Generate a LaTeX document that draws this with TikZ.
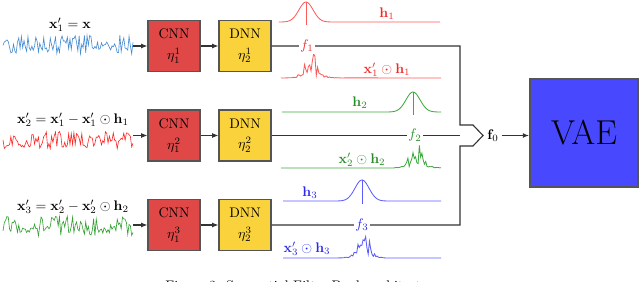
\documentclass[tikz,border=0pt]{standalone}
\usepackage{amsmath,amssymb}
\usetikzlibrary{arrows.meta}
\definecolor{cnnred}{RGB}{224,72,72}
\definecolor{dnnyel}{RGB}{250,210,60}
\definecolor{vaeblue}{RGB}{72,72,255}
\definecolor{sigblue}{RGB}{70,140,210}
\definecolor{sigred}{RGB}{255,40,40}
\definecolor{siggreen}{RGB}{50,160,50}
\definecolor{cred}{RGB}{255,90,90}
\definecolor{cgreen}{RGB}{60,170,60}
\definecolor{cblue}{RGB}{90,90,255}
\definecolor{lred}{RGB}{240,40,40}
\definecolor{lgreen}{RGB}{40,140,40}
\definecolor{lblue}{RGB}{40,40,240}
\definecolor{edge}{RGB}{85,85,85}
\begin{document}
\begin{tikzpicture}[x=0.72pt,y=-0.72pt,
  box/.style={draw=edge,line width=0.8pt,minimum width=37.4pt,minimum height=36.7pt,inner sep=0pt,align=center},
  conn/.style={draw=black!80,line width=0.8pt},
  arr/.style={conn,-{Latex[length=4.5pt,width=3.5pt]}},
  sig/.style={line width=0.45pt},
  fl/.style={line width=0.6pt},
  flab/.style={inner sep=1pt},
  fnode/.style={inner sep=1pt,fill=white},
]
\useasboundingbox (0,0) rectangle (640,282);
\clip (0,0) rectangle (640,282);
\pgfmathsetseed{11}

% ---- input signals
\draw[sig,sigblue] plot[domain=3:133,samples=100]
  (\x,{45+10*(1-0.8*exp(-(((\x-104)/7)^2)))*rand});
\draw[sig,sigred] plot[domain=3:133,samples=100]
  (\x,{140+9*(1-0.85*exp(-(((\x-22)/8)^2)))*rand+6*exp(-(((\x-22)/7)^2))});
\draw[sig,siggreen] plot[domain=3:133,samples=100]
  (\x,{226+10*(1-0.8*exp(-(((\x-25)/7)^2))-0.8*exp(-(((\x-106)/6)^2)))*rand+5*exp(-(((\x-25)/6)^2))+5*exp(-(((\x-106)/6)^2))});
\coordinate (in1) at (133,46);
\coordinate (in2) at (133,135.5);
\coordinate (in3) at (133,225);

% ---- input labels
\node[flab] (lx1) at (70,25) {$\mathbf{x}'_1=\mathbf{x}$};
\node[flab] (lx2) at (73,120) {$\mathbf{x}'_2=\mathbf{x}'_1-\mathbf{x}'_1\odot\mathbf{h}_1$};
\node[flab] (lx3) at (73,207) {$\mathbf{x}'_3=\mathbf{x}'_2-\mathbf{x}'_2\odot\mathbf{h}_2$};

% ---- boxes
\node[box,fill=cnnred] (cnn1) at (174,46) {CNN\\[3pt]$\eta_1^1$};
\node[box,fill=dnnyel] (dnn1) at (245,46) {DNN\\[3pt]$\eta_2^1$};
\node[box,fill=cnnred] (cnn2) at (174,135.5) {CNN\\[3pt]$\eta_1^2$};
\node[box,fill=dnnyel] (dnn2) at (245,135.5) {DNN\\[3pt]$\eta_2^2$};
\node[box,fill=cnnred] (cnn3) at (174,225) {CNN\\[3pt]$\eta_1^3$};
\node[box,fill=dnnyel] (dnn3) at (245,225) {DNN\\[3pt]$\eta_2^3$};

\draw[arr] (in1) -- (cnn1.west);
\draw[arr] (in2) -- (cnn2.west);
\draw[arr] (in3) -- (cnn3.west);
\draw[arr] (cnn1) -- (dnn1);
\draw[arr] (cnn2) -- (dnn2);
\draw[arr] (cnn3) -- (dnn3);

% ---- merge
\coordinate (mx) at (460,135.5);
\coordinate (tip) at (483,135.5);
\draw[conn,line join=miter] (dnn1.east) -- (dnn1.east -| mx) -- (460,125) -- (473,125) -- (tip)
  -- (473,146) -- (460,146) -- (dnn3.east -| mx) -- (dnn3.east);
\draw[conn] (dnn2.east) -- (mx);

\node[inner sep=2pt] (f0) at (493,135.5) {$\mathbf{f}_0$};
\node[draw=edge,line width=1.2pt,fill=vaeblue,minimum width=77.8pt,minimum height=77.8pt,inner sep=0pt]
  (vae) at (584,133) {\Huge VAE};
\draw[arr] (f0.east) -- (f0.east -| vae.west);

% ---- row 1 filters (red)
\draw[fl,cred] (279,22) -- plot[domain=279:340,samples=62] (\x,{22-20*exp(-(((\x-306)/10)^2))}) -- (440,22);
\draw[fl,cred,line width=0.4pt] (306,2) -- (306,25);
\draw[fl,cred] (281,78) -- plot[domain=281:345,samples=50]
  (\x,{78-25*exp(-(((\x-311)/9)^2))*rnd-2*exp(-(((\x-315)/18)^2))*rnd}) -- (441,78);
\node[flab,text=lred] (h1) at (387,14) {$\mathbf{h}_1$};
\node[flab,text=lred] (xh1) at (387,70) {$\mathbf{x}'_1\odot\mathbf{h}_1$};
\node[fnode,text=lred] (f1) at (307,46) {$f_1$};

% ---- row 2 filters (green)
\draw[fl,cgreen] (282,112) -- (375,112) -- plot[domain=375:441,samples=67] (\x,{112-20*exp(-(((\x-413)/10)^2))});
\draw[fl,cgreen,line width=0.4pt] (413,92) -- (413,115);
\draw[fl,cgreen] (281,168) -- (385,168) -- plot[domain=385:441,samples=45]
  (\x,{168-25*exp(-(((\x-416)/9)^2))*rnd-3*exp(-(((\x-418)/16)^2))*rnd});
\node[flab,text=lgreen] (h2) at (360,103) {$\mathbf{h}_2$};
\node[flab,text=lgreen] (xh2) at (362,160) {$\mathbf{x}'_2\odot\mathbf{h}_2$};
\node[fnode,text=lgreen] (f2) at (415,135.5) {$f_2$};

% ---- row 3 filters (blue)
\draw[fl,cblue] (283,201) -- (325,201) -- plot[domain=325:400,samples=76] (\x,{201-21*exp(-(((\x-362)/10)^2))}) -- (441,201);
\draw[fl,cblue,line width=0.4pt] (362,180) -- (362,204);
\draw[fl,cblue] (283,258) -- (335,258) -- plot[domain=335:395,samples=48]
  (\x,{258-26*exp(-(((\x-364)/8)^2))*rnd-3*exp(-(((\x-362)/14)^2))*rnd}) -- (441,258);
\node[flab,text=lblue] (h3) at (310,193) {$\mathbf{h}_3$};
\node[flab,text=lblue] (xh3) at (307,249) {$\mathbf{x}'_3\odot\mathbf{h}_3$};
\node[fnode,text=lblue] (f3) at (362,225) {$f_3$};

% ---- caption (cut off at bottom edge, as in the reference)
\node[anchor=base west,inner sep=0pt] (cap) at (165,290) {Figure 3: Sequential Filter Bank architecture};
\end{tikzpicture}
\end{document}
